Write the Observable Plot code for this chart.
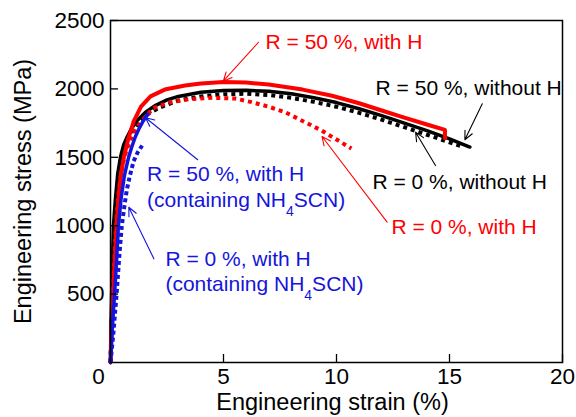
<!DOCTYPE html>
<html>
<head>
<meta charset="utf-8">
<script src="https://cdn.jsdelivr.net/npm/d3@7"></script>
<script src="https://cdn.jsdelivr.net/npm/@observablehq/plot@0.6"></script>
<style>
  html, body { margin: 0; padding: 0; background: #fff; }
</style>
</head>
<body>
<div id="chart"></div>
<script>
// ---- Data: engineering strain (%) vs engineering stress (MPa) ----
const strainTicks = [5, 10, 15, 20];
const stressTicks = [500, 1000, 1500, 2000, 2500];
const originLabel = ["0"];

// R = 50 %, without H (black solid)
const r50NoH = [[0,0],[0.02,250],[0.05,500],[0.09,750],[0.13,1000],[0.22,1200],[0.32,1380],[0.44,1500],[0.58,1590],[0.74,1650],[0.93,1710],[1.18,1769],[1.55,1830],[2,1880],[2.5,1920],[3,1945],[4,1975],[5,1988],[6,1990],[7,1982],[8,1965],[9,1935],[10,1900],[11,1855],[12,1805],[13,1750],[14,1695],[15,1635],[15.9,1575]];
// R = 0 %, without H (black dotted)
const r0NoH = [[0,0],[0.04,250],[0.09,500],[0.14,750],[0.2,1000],[0.29,1200],[0.38,1370],[0.5,1490],[0.65,1580],[0.83,1650],[1.03,1710],[1.33,1769],[1.73,1825],[2.2,1865],[3,1915],[4,1945],[5,1960],[6,1965],[7,1955],[8,1935],[9,1905],[10,1870],[11,1825],[12,1775],[13,1720],[14,1665],[15,1610],[15.5,1582]];
// R = 50 %, with H (red solid)
const r50H = [[0,0],[0.05,250],[0.12,500],[0.19,750],[0.27,1000],[0.38,1250],[0.48,1390],[0.59,1500],[0.78,1630],[1.02,1760],[1.35,1870],[1.77,1945],[2.4,1995],[3.3,2025],[4,2040],[5,2050],[6,2046],[7,2032],[7.6,2018],[8.5,1995],[9.8,1950],[11,1895],[12,1842],[13,1790],[14,1740],[14.8,1700],[14.8,1640]];
// R = 0 %, with H (red dotted)
const r0H = [[0,0],[0.04,250],[0.1,500],[0.17,750],[0.24,1000],[0.33,1200],[0.43,1350],[0.57,1470],[0.72,1560],[0.92,1640],[1.13,1710],[1.4,1769],[1.9,1860],[2.6,1900],[3.5,1925],[4.5,1935],[5.5,1930],[6.25,1903],[7,1870],[7.72,1830],[8.75,1745],[9.34,1696],[10,1630],[10.66,1564]];
// R = 50 %, with H (containing NH4SCN) (blue solid)
const r50HN = [[0,0],[0.08,250],[0.18,500],[0.27,750],[0.35,1000],[0.47,1200],[0.62,1370],[0.8,1500],[0.94,1575],[1.1,1650],[1.28,1715],[1.46,1769],[1.65,1815]];
// R = 0 %, with H (containing NH4SCN) (blue dotted)
const r0HN = [[0,0],[0.12,200],[0.27,500],[0.4,800],[0.5,1000],[0.62,1150],[0.72,1260],[0.85,1360],[1.02,1470],[1.2,1535],[1.4,1586]];

// ---- Annotations ----
const annText = ["R = 50 %, with H", "R = 50 %, without H", "R = 0 %, without H", "R = 0 %, with H",
                 "R = 50 %, with H", "(containing NH4SCN)", "R = 0 %, with H", "(containing NH4SCN)"];
const annKey = ["red", "black", "black", "red", "blue", "blue", "blue", "blue"];
const annX = [6.86, 11.73, 11.59, 12.43, 1.62, 1.62, 2.43, 2.43];
const annY = [2341, 2003, 1318, 989, 1379, 1184, 758, 575];

const arrowKey = ["red", "black", "black", "red", "blue", "blue"];
const arrowFromX = [6.55, 16.45, 14.38, 12.24, 3.86, 1.92];
const arrowFromY = [2341, 1891, 1440, 1026, 1482, 758];
const arrowToX = [4.99, 15.68, 13.5, 9.36, 1.55, 0.81];
const arrowToY = [2056, 1628, 1683, 1652, 1789, 1135];

// ---- Styles ----
const RED = "#ff0000", BLUE = "#1414dc", BLACK = "#000000";
const colorOf = k => k === "red" ? RED : k === "blue" ? BLUE : BLACK;
const FONT = "'Liberation Sans', Arial, Helvetica, sans-serif";

const W = 576, H = 417;
const mL = 110, mR = 14, mT = 20, mB = 55;
const plotW = W - mL - mR, plotH = H - mT - mB;
const TICK = 8;

const annIdx = d3.range(annText.length);
const arrIdx = d3.range(arrowKey.length);
const px = d => d[0], py = d => d[1];

const chart = Plot.plot({
  width: W,
  height: H,
  marginLeft: mL,
  marginRight: mR,
  marginTop: mT,
  marginBottom: mB,
  style: { fontFamily: FONT, background: "#fff", color: "#000", overflow: "visible" },
  x: { domain: [0, 20], label: null },
  y: { domain: [0, 2500], label: null },
  marks: [
    Plot.line(r0NoH, { x: px, y: py, stroke: BLACK, strokeWidth: 4, strokeDasharray: "4,4", strokeLinecap: "butt" }),
    Plot.line(r50NoH, { x: px, y: py, stroke: BLACK, strokeWidth: 3.5 }),
    Plot.line(r0H, { x: px, y: py, stroke: RED, strokeWidth: 4, strokeDasharray: "4,4", strokeLinecap: "butt" }),
    Plot.line(r50H, { x: px, y: py, stroke: RED, strokeWidth: 4 }),
    Plot.line(r50HN, { x: px, y: py, stroke: BLUE, strokeWidth: 3.5 }),
    Plot.line(r0HN, { x: px, y: py, stroke: BLUE, strokeWidth: 4, strokeDasharray: "4,3", strokeLinecap: "butt" }),
    Plot.frame({ stroke: BLACK, strokeWidth: 1.5 }),
    Plot.tickY(stressTicks, { y: d => d, stroke: BLACK, strokeWidth: 1.3, insetRight: plotW - TICK }),
    Plot.tickX(strainTicks, { x: d => d, stroke: BLACK, strokeWidth: 1.3, insetTop: plotH - TICK }),
    Plot.axisY(stressTicks, { tickSize: 0, tickPadding: 6, fontSize: 22.5, label: null, tickFormat: d => String(d) }),
    Plot.axisX(strainTicks, { tickSize: 0, tickPadding: 6, fontSize: 22.5, label: null, tickFormat: d => String(d) }),
    Plot.text(originLabel, { text: d => d, frameAnchor: "bottom-left", dx: -12, dy: 14, fontSize: 22.5, lineAnchor: "middle", textAnchor: "middle" }),
    Plot.text(["Engineering strain (%)"], { text: d => d, frameAnchor: "bottom", dx: -4, dy: 40, fontSize: 23.5, lineAnchor: "middle", textAnchor: "middle" }),
    Plot.text(["Engineering stress (MPa)"], { text: d => d, frameAnchor: "left", dx: -87, rotate: -90, fontSize: 23.5, lineAnchor: "middle", textAnchor: "middle" }),
    Plot.arrow(arrIdx, {
      x1: i => arrowFromX[i], y1: i => arrowFromY[i], x2: i => arrowToX[i], y2: i => arrowToY[i],
      stroke: i => colorOf(arrowKey[i]), strokeWidth: 1.1, headLength: 13, headAngle: 50
    }),
    Plot.text(annIdx, {
      x: i => annX[i], y: i => annY[i], text: i => annText[i],
      fill: i => colorOf(annKey[i]), textAnchor: "start", lineAnchor: "middle", fontSize: 21
    })
  ]
});

// Subscript the 4 in NH4SCN
d3.select(chart).selectAll("text").each(function () {
  const s = this.textContent;
  if (s.includes("NH4SCN") && this.childElementCount === 0) {
    const [a, b] = s.split("NH4SCN");
    const t = d3.select(this);
    t.text(null);
    t.append("tspan").text(a + "NH");
    t.append("tspan").attr("dy", 9).attr("font-size", 14).text("4");
    t.append("tspan").attr("dy", -9).text("SCN" + b);
  }
});

document.getElementById("chart").appendChild(chart);
</script>
</body>
</html>
